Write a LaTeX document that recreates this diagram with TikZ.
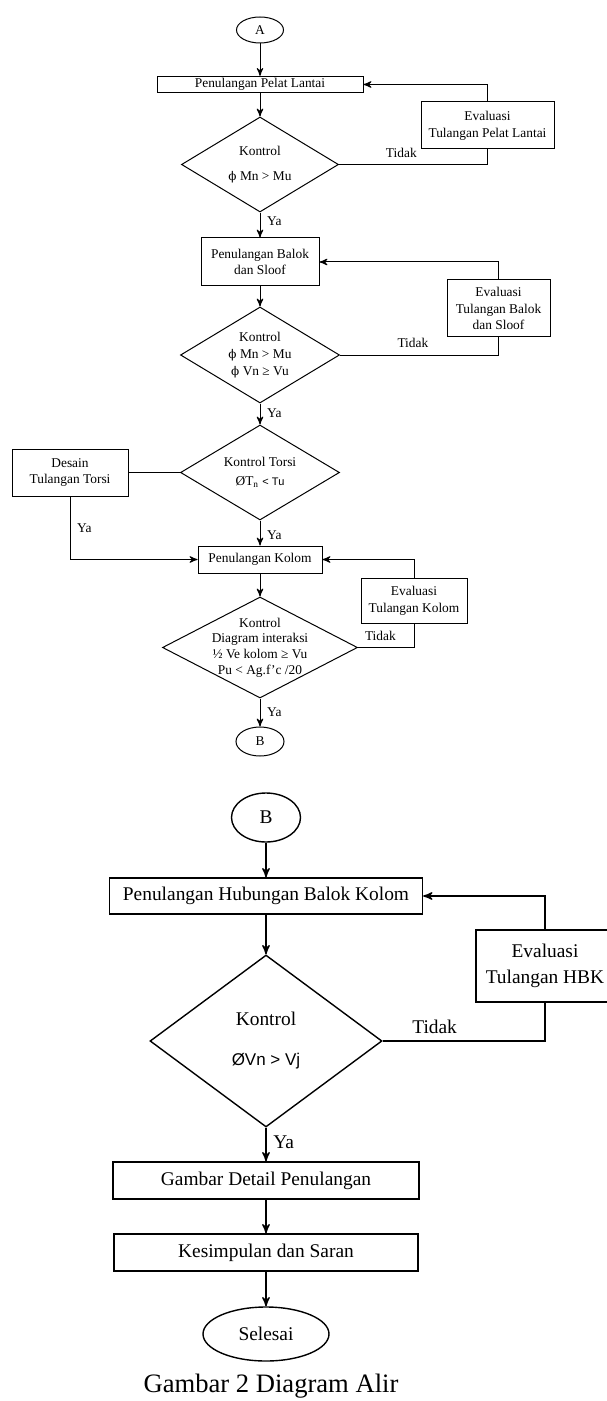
\documentclass[tikz,border=0pt]{standalone}
\usepackage{fontspec}
\setmainfont{Liberation Serif}
\setsansfont{Liberation Sans}
\newfontfamily\simbol{DejaVu Serif}
\usetikzlibrary{arrows,positioning,shapes.geometric}

\newcommand{\kecil}{\fontsize{6.7}{8.4}\selectfont}
\newcommand{\besar}{\fontsize{9.7}{13}\selectfont}
\newcommand{\simfi}{{\simbol\fontsize{6}{8}\selectfont ϕ}}

\begin{document}
\begin{tikzpicture}[->,>=stealth',x=0.5pt,y=-0.5pt,on grid,line width=0.5pt,font=\kecil,
  box/.style={rectangle,draw,align=center,inner sep=1pt},
  test/.style={diamond,draw,align=center,aspect=1.65,inner sep=-3pt},
  term/.style={ellipse,draw,inner sep=0pt}]

  \useasboundingbox (0,0) rectangle (606,1401);

  % bagian A
  \node[term,minimum width=23.5pt,minimum height=13pt] (A) at (260,30) {A};
  \node[box,minimum width=103pt,minimum height=7.5pt] (pelat) [below=27.25pt of A] {Penulangan Pelat Lantai};
  \node[test,minimum width=78.5pt,minimum height=47.5pt] (cekpelat) [below=40pt of pelat] {Kontrol\\[4pt]\simfi{} Mn > Mu};
  \node[box,minimum width=66.5pt,minimum height=23.5pt] (evalpelat) [above right=19.5pt and 113.75pt of cekpelat] {Evaluasi\\Tulangan Pelat Lantai};
  \node[box,minimum width=59pt,minimum height=24pt] (balok) [below=48.75pt of cekpelat] {Penulangan Balok\\dan Sloof};
  \node[test,minimum width=79.5pt,minimum height=48pt] (cekbalok) [below=46.5pt of balok] {Kontrol\\\simfi{} Mn > Mu\\\simfi{} Vn ≥ Vu};
  \node[box,minimum width=51.5pt,minimum height=28.5pt] (evalbalok) [above right=23.25pt and 119.25pt of cekbalok] {Evaluasi\\Tulangan Balok\\dan Sloof};
  \node[test,minimum width=79.5pt,minimum height=47.5pt] (cektorsi) [below=58.75pt of cekbalok] {Kontrol Torsi\\[1pt]ØT\textsubscript{n} {\sffamily\fontsize{5.5}{8}\selectfont< Tu}};
  \node[box,minimum width=58pt,minimum height=23.5pt] (torsi) [left=95pt of cektorsi] {Desain\\Tulangan Torsi};
  \node[box,minimum width=62pt,minimum height=13.5pt] (kolom) [below=43.5pt of cektorsi] {Penulangan Kolom};
  \node[box,minimum width=53pt,minimum height=22.5pt] (evalkolom) [below right=20.5pt and 77pt of kolom] {Evaluasi\\Tulangan Kolom};
  \node[test,aspect=1.93,minimum width=97.5pt,minimum height=50.5pt,font=\fontsize{6.7}{7.8}\selectfont] (cekkolom) [below=44pt of kolom] {Kontrol\\Diagram interaksi\\½ Ve kolom ≥ Vu\\Pu < Ag.f’c /20};
  \node[term,minimum width=24pt,minimum height=14.5pt] (B) [below=47pt of cekkolom] {B};

  \path
    (A) edge (pelat)
    (pelat) edge (cekpelat)
    (cekpelat) edge node [pos=0.35, right] {Ya} (balok)
    (balok) edge (cekbalok)
    (cekbalok) edge node [pos=0.45, right] {Ya} (cektorsi)
    (cektorsi) edge node [pos=0.58, right] {Ya} (kolom)
    (cektorsi) edge [-] (torsi)
    (kolom) edge (cekkolom)
    (cekkolom) edge node [pos=0.48, right] {Ya} (B);

  \draw[-] (cekpelat) -| node [pos=0.21, above] {Tidak} (evalpelat);
  \draw (evalpelat) |- (pelat);
  \draw[-] (cekbalok) -| node [pos=0.23, above] {Tidak} (evalbalok);
  \draw (evalbalok) |- (balok);
  \draw (torsi) |- node [pos=0.25, right] {Ya} (kolom);
  \draw[-] (cekkolom) -| node [pos=0.2, above] {Tidak} (evalkolom);
  \draw (evalkolom) |- (kolom);

  % bagian B
  \begin{scope}[font=\besar,line width=0.7pt]
    \node[term,minimum width=34.5pt,minimum height=24.5pt] (lanjutB) [below right=38pt and 3pt of B] {B};
    \node[box,minimum width=156.5pt,minimum height=18pt] (hbk) [below=39.25pt of lanjutB] {Penulangan Hubungan Balok Kolom};
    \node[test,aspect=1.35,minimum width=116pt,minimum height=86pt] (cekhbk) [below=72.5pt of hbk] {Kontrol\\[7pt]{\sffamily\fontsize{8.5}{10}\selectfont ØVn > Vj}};
    \node[box,minimum width=69pt,minimum height=36pt] (evalhbk) [above right=37.5pt and 139.5pt of cekhbk] {Evaluasi\\Tulangan HBK};
    \node[box,minimum width=153pt,minimum height=18.5pt] (gambar) [below=69.75pt of cekhbk] {Gambar Detail Penulangan};
    \node[box,minimum width=152pt,minimum height=18.5pt] (simpulan) [below=36pt of gambar] {Kesimpulan dan Saran};
    \node[term,minimum width=63pt,minimum height=27pt] (selesai) [below=40.75pt of simpulan] {Selesai};
    \node[font=\fontsize{13.3}{16}\selectfont] (judul) [below right=26pt and 2.5pt of selesai] {Gambar 2 Diagram Alir};

    \path
      (lanjutB) edge (hbk)
      (hbk) edge (cekhbk)
      (cekhbk) edge node [pos=0.43, right] {Ya} (gambar)
      (gambar) edge (simpulan)
      (simpulan) edge (selesai);

    \draw[-] (cekhbk) -| node [pos=0.16, above] {Tidak} (evalhbk);
    \draw (evalhbk) |- (hbk);
  \end{scope}

\end{tikzpicture}
\end{document}
